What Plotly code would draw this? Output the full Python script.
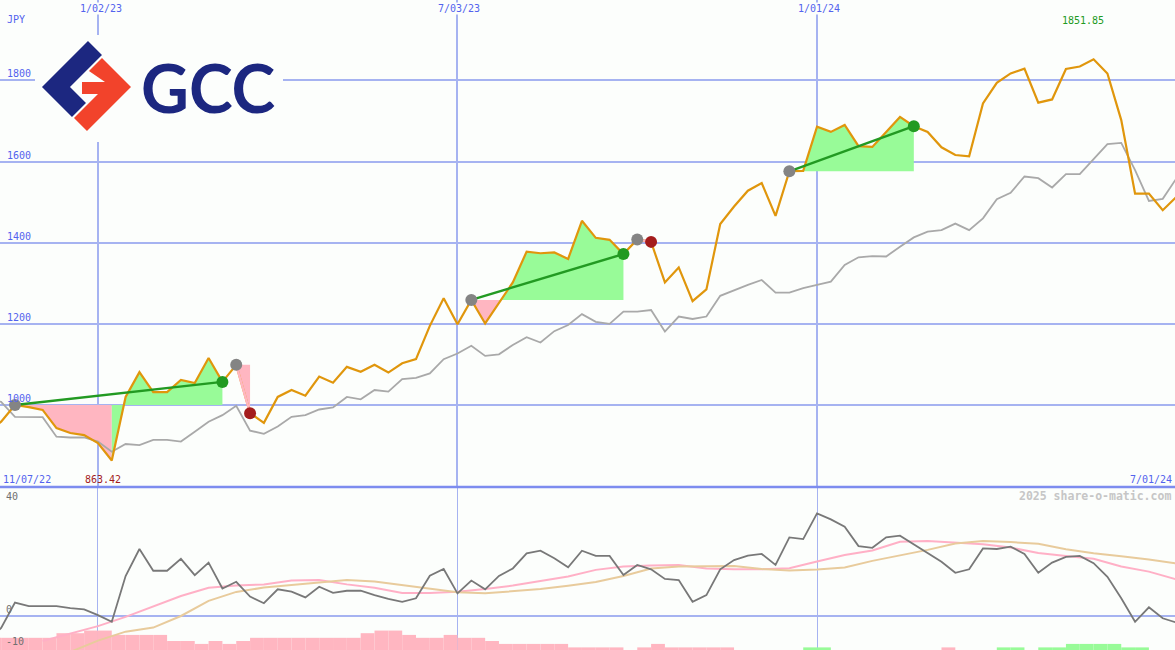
import pandas as pd
import plotly.graph_objects as go

# --- data (weekly closes, rebased) ---
weeks = pd.date_range('2022-11-07', periods=87, freq='7D')

price = [930, 959, 1000, 995, 988, 943, 931, 926, 906, 863.42,
         1020, 1081, 1032, 1032, 1062, 1054, 1116, 1057, 1099, 980,
         956, 1020, 1037, 1023, 1070, 1055, 1094, 1082, 1099, 1080,
         1103, 1113, 1195, 1263, 1199, 1259, 1201, 1251, 1302, 1378,
         1374, 1376, 1360, 1454, 1412, 1407, 1372, 1408, 1402, 1302,
         1339, 1256, 1285, 1446, 1489, 1528, 1547, 1466, 1576, 1577,
         1686, 1673, 1690, 1638, 1636, 1673, 1710, 1687, 1673, 1635,
         1616, 1613, 1743, 1794, 1817, 1829, 1745, 1753, 1828, 1834,
         1851.85, 1817, 1702, 1521, 1521, 1480, 1513]

bench = [1010, 1008, 971, 970, 970, 922, 920, 920, 910, 885,
         904, 901, 914, 914, 910, 934, 959, 975, 998, 937,
         929, 947, 971, 975, 989, 994, 1020, 1014, 1037, 1033,
         1064, 1067, 1078, 1113, 1127, 1146, 1121, 1125, 1148, 1167,
         1154, 1182, 1197, 1224, 1205, 1200, 1230, 1230, 1234, 1181,
         1218, 1212, 1218, 1269, 1283, 1296, 1308, 1277, 1277, 1288,
         1296, 1304, 1345, 1364, 1367, 1366, 1390, 1413, 1427, 1431,
         1447, 1431, 1460, 1507, 1523, 1563, 1559, 1536, 1569, 1569,
         1606, 1643, 1646, 1579, 1503, 1508, 1559]

# trades: (entry week index, exit week index)
trades = [(2, 17), (18, 19), (35, 46), (47, 48), (58, 67)]

# --- lower panel ---
momentum = [-9, -4.2, 4.5, 3.3, 3.3, 3.3, 2.6, 2.2, 0.2, -2.1,
            13.7, 23.0, 15.5, 15.5, 19.6, 14.0, 18.3, 9.4, 11.7, 6.6,
            4.3, 9.1, 8.3, 6.3, 10.0, 7.9, 8.6, 8.6, 7.1, 5.8,
            4.8, 6.0, 13.8, 16.1, 7.7, 12.1, 9.1, 13.7, 16.3, 21.5,
            22.4, 19.8, 16.7, 22.4, 20.6, 20.6, 14.0, 17.5, 16.0, 12.7,
            12.3, 4.8, 7.1, 16.0, 19.2, 20.7, 21.3, 17.5, 27.0, 26.4,
            35.3, 33.2, 30.7, 24.0, 23.4, 27.0, 27.6, 24.6, 21.7, 18.6,
            14.8, 16.0, 23.2, 23.0, 23.8, 21.3, 14.8, 18.3, 20.3, 20.6,
            18.1, 13.4, 6.0, -2.1, 2.9, -0.9, -2.4]

fast_dates = pd.date_range('2022-12-05', periods=42, freq='14D')
fast_avg = [-8.7, -6.1, -3.6, -0.4, 3.2, 6.8, 9.6, 10.4, 10.8, 12.1,
            12.3, 10.8, 9.6, 7.8, 7.8, 8.3, 9.2, 10.4, 12.0, 13.5,
            15.8, 17.0, 17.3, 17.5, 16.3, 16.0, 16.0, 16.4, 18.7, 20.9,
            22.5, 25.5, 25.8, 25.2, 24.6, 23.5, 21.6, 20.6, 19.6, 17.0,
            15.2, 12.5]

slow_dates = pd.date_range('2022-12-19', periods=41, freq='14D')
slow_avg = [-12.5, -8.6, -5.5, -4.1, -0.1, 5.1, 8.2, 9.7, 10.6,
            11.4, 12.3, 11.8, 10.6, 9.4, 8.1, 7.7, 8.5, 9.2, 10.3,
            11.6, 13.7, 16.3, 17.0, 17.1, 17.1, 16.1, 15.6, 15.9, 16.6,
            18.9, 20.8, 22.7, 24.9, 25.8, 25.4, 24.8, 22.9, 21.5, 20.5,
            19.4, 18.0]

hist = [-4.2, -4.2, -4.2, -4.2, -4.2, -5.8, -5.8, -6.7, -6.7, -5.2,
        -5.2, -5.2, -5.2, -3.1, -3.1, -2.1, -3.1, -2.1, -3.1, -4.2,
        -4.2, -4.2, -4.2, -4.2, -4.2, -4.2, -4.2, -5.8, -6.7, -6.7,
        -5.2, -4.2, -4.2, -5.2, -4.2, -4.2, -3.1, -2.1, -2.1, -2.1,
        -2.1, -2.1, -0.9, -0.9, -0.9, -0.9, 0, -0.9, -2.1, -0.9,
        -0.9, -0.9, -0.9, -0.9, 0, 0, 0, 0, 0, 0.9,
        0.9, 0, 0, 0, 0, 0, 0, 0, 0, -0.9,
        0, 0, 0, 0.9, 0.9, 0, 0.9, 0.9, 2.1, 2.1,
        2.1, 2.1, 0.9, 0.9, 0, 0, 0]

grid_dates = ['2023-01-02', '2023-07-03', '2024-01-01']
price_grid = [1000, 1200, 1400, 1600, 1800]

# --- styles ---
W, H = 1175, 650
BG = '#fcfefc'
GRID = '#a6b3f1'
ORANGE = '#e0960c'
GREY = '#a9a9a9'
GREEN_FILL = '#98fb98'
PINK_FILL = '#ffb6c1'
WIN = '#229a22'
LOSS = '#a41c1c'
BLUE_TXT = '#5363ee'
MONO = 'DejaVu Sans Mono'
LOW_MIN, LOW_MAX = -11.83, 44.38
SPLIT = 487  # pixel row between the two panels


def px(x):
    return x / W


def py(y):
    return 1 - y / H


fig = go.Figure()

# histogram along the bottom of the lower panel
fig.add_bar(x=weeks, y=[abs(v) for v in hist], base=LOW_MIN,
            width=7 * 24 * 3600 * 1000, offset=0,
            marker_color=[GREEN_FILL if v > 0 else PINK_FILL for v in hist],
            marker_line_width=0, xaxis='x2', yaxis='y2', hoverinfo='skip')

fig.add_scatter(x=fast_dates, y=fast_avg, mode='lines', line=dict(color='#ffb0c6', width=2),
                xaxis='x2', yaxis='y2')
fig.add_scatter(x=slow_dates, y=slow_avg, mode='lines', line=dict(color='#e8cb9c', width=2),
                xaxis='x2', yaxis='y2')
fig.add_scatter(x=weeks, y=momentum, mode='lines', line=dict(color='#787878', width=1.8),
                xaxis='x2', yaxis='y2')

# trade fills: segment colour follows whether the week closes above the entry
for s, e in trades:
    base = price[s]
    k = s
    while k < e:
        up = price[k + 1] > base
        j = k
        while j < e and (price[j + 1] > base) == up:
            j += 1
        xs = [weeks[k]] + list(weeks[k:j + 1]) + [weeks[j]]
        ys = [base] + price[k:j + 1] + [base]
        fig.add_scatter(x=xs, y=ys, mode='lines', fill='toself',
                        fillcolor=GREEN_FILL if up else PINK_FILL,
                        line=dict(width=0), hoverinfo='skip')
        k = j

fig.add_scatter(x=weeks, y=bench, mode='lines', line=dict(color=GREY, width=1.8))
fig.add_scatter(x=weeks, y=price, mode='lines', line=dict(color=ORANGE, width=2.2))

for s, e in trades:
    won = price[e] > price[s]
    fig.add_scatter(x=[weeks[s], weeks[e]], y=[price[s], price[e]], mode='lines',
                    line=dict(color=WIN if won else PINK_FILL, width=2.4))
    fig.add_scatter(x=[weeks[s]], y=[price[s]], mode='markers',
                    marker=dict(color='#848484', size=12))
    fig.add_scatter(x=[weeks[e]], y=[price[e]], mode='markers',
                    marker=dict(color=WIN if won else LOSS, size=12))

# --- text ---
ann = []


def label(text, x, y, color=BLUE_TXT, anchor='center', size=10, bg=None, bold=False):
    ann.append(dict(text=text, x=px(x), y=py(y), xref='paper', yref='paper',
                    xanchor=anchor, yanchor='middle', showarrow=False,
                    bgcolor=bg, borderpad=0,
                    font=dict(family=MONO, size=size, color=color,
                              weight='bold' if bold else 'normal')))


label('JPY', 6, 19, anchor='left')
label('1/02/23', 101, 8, bg=BG)
label('7/03/23', 459, 8, bg=BG)
label('1/01/24', 819, 8, bg=BG)
for v in price_grid:
    ann.append(dict(text=str(v), x=px(6), y=v, xref='paper', yref='y', xanchor='left',
                    yanchor='bottom', yshift=0, showarrow=False, borderpad=0,
                    font=dict(family=MONO, size=10, color=BLUE_TXT)))
label('11/07/22', 2, 479, anchor='left')
label('7/01/24', 1173, 479, anchor='right')
label(f'{min(price):.2f}', 103, 479, color=LOSS)
label(f'{max(price):.2f}', 1083, 21, color=WIN)
label('2025 share-o-matic.com', 1172, 496, color='#c6c6c6', anchor='right', size=11.5, bold=True)
label('40', 5, 496, color='#707070', anchor='left')
label('0', 5, 609, color='#707070', anchor='left')
label('-10', 5, 641, color='#707070', anchor='left')

# logo wordmark
ann.append(dict(text='GCC', x=px(208), y=py(87), xref='paper', yref='paper',
                xanchor='center', yanchor='middle', showarrow=False,
                font=dict(family='Lato', size=66, color='#1c2780', weight='bold')))


def poly(points, color):
    d = 'M ' + ' L '.join(f'{px(x):.5f},{py(y):.5f}' for x, y in points) + ' Z'
    return dict(type='path', path=d, xref='paper', yref='paper',
                fillcolor=color, line=dict(width=0), layer='above')


shapes = [
    dict(type='rect', xref='paper', yref='paper', x0=px(35), x1=px(283), y0=py(142), y1=py(35),
         fillcolor=BG, line=dict(width=0), layer='above'),
    poly([(42, 87), (88, 41), (102, 55), (70, 87), (86, 103), (72, 117)], '#1c2780'),
    poly([(102, 58), (131, 87), (87, 131), (74, 118), (98, 94), (82, 94), (82, 82),
          (105, 82), (89, 71)], '#f2432b'),
    dict(type='line', xref='paper', yref='paper', x0=0, x1=1, y0=py(SPLIT), y1=py(SPLIT),
         line=dict(color='#7d8cef', width=2.5), layer='above'),
]

fig.update_layout(
    width=W, height=H, margin=dict(l=0, r=0, t=0, b=0),
    paper_bgcolor=BG, plot_bgcolor=BG, showlegend=False,
    annotations=ann, shapes=shapes,
    xaxis=dict(domain=[0, 1], range=['2022-11-13 10:00', '2024-06-30 05:00'], anchor='y',
               tickvals=grid_dates, showticklabels=False, ticks='', showgrid=True,
               gridcolor=GRID, gridwidth=1.5, zeroline=False, showline=False),
    yaxis=dict(domain=[py(SPLIT), 1], range=[798, 1998], tickvals=price_grid,
               showticklabels=False, ticks='', gridcolor=GRID, gridwidth=2, zeroline=False),
    xaxis2=dict(domain=[0, 1], matches='x', anchor='y2', tickvals=grid_dates,
                showticklabels=False, ticks='', gridcolor=GRID, gridwidth=1, zeroline=False),
    yaxis2=dict(domain=[0, py(SPLIT)], range=[LOW_MIN, LOW_MAX], tickvals=[0],
                showticklabels=False, ticks='', gridcolor=GRID, gridwidth=2, zeroline=False),
)

# page default body margin would shift the figure; remove it
fig.write_html('out.html', config={'displayModeBar': False},
               post_script="document.body.style.margin='0';document.body.style.overflow='hidden';")
